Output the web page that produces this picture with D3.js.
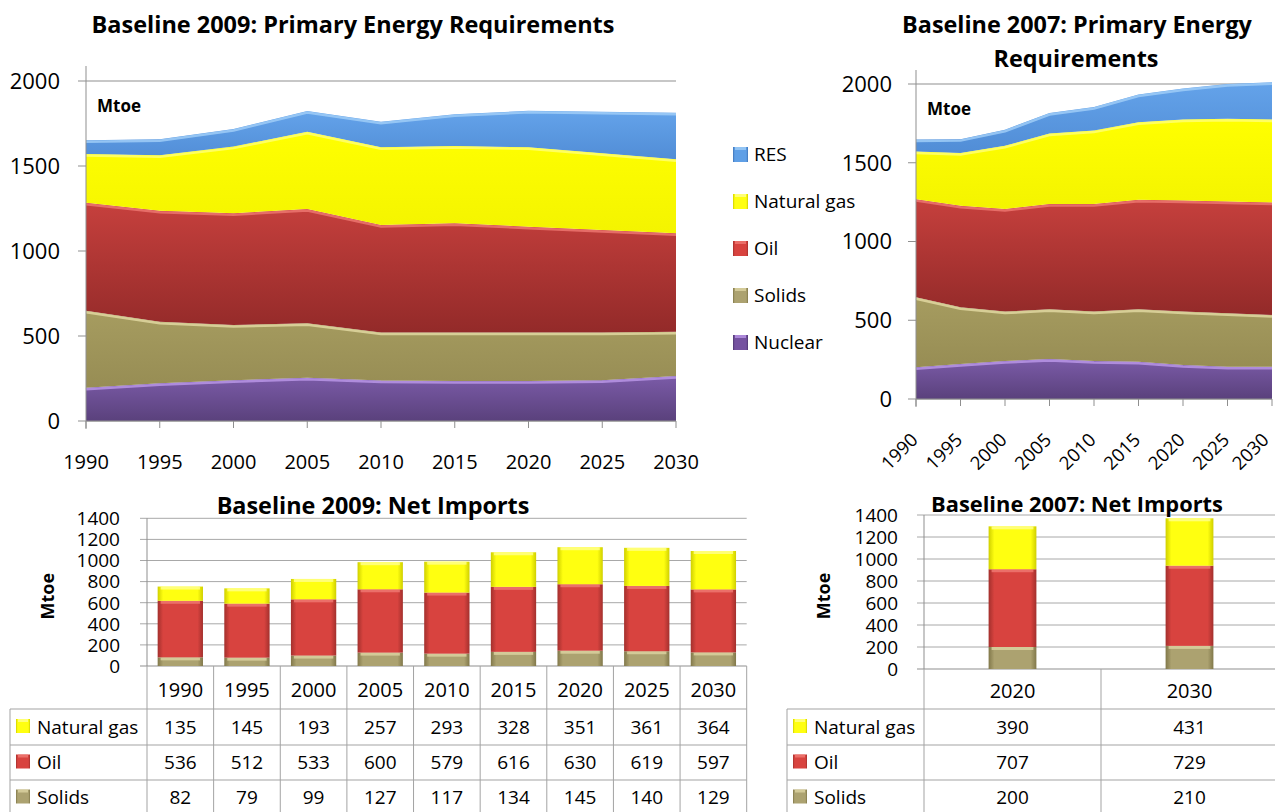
<!DOCTYPE html>
<html><head><meta charset="utf-8">
<script src="https://cdn.jsdelivr.net/npm/d3@7"></script>
<style>body{margin:0;background:#fff;} svg{display:block;font-family:"Open Sans",Lato,sans-serif;}</style>
</head><body><svg id="c" width="1275" height="812"></svg>
<script>
// ---------------- DATA ----------------
const years = [1990,1995,2000,2005,2010,2015,2020,2025,2030];
const seriesNames = ["Nuclear","Solids","Oil","Natural gas","RES"];
const legendOrder = ["RES","Natural gas","Oil","Solids","Nuclear"];
// Baseline 2009: primary energy requirements (Mtoe)
const b09Nuclear = [196,222,240,255,238,235,235,240,265];
const b09Solids  = [453,362,325,320,282,285,285,280,260];
const b09Oil     = [635,653,657,672,633,643,623,604,579];
const b09Gas     = [287,326,392,455,457,455,467,451,435];
const b09Res     = [80,94,104,122,151,186,215,244,274];
// Baseline 2007: primary energy requirements (Mtoe)
const b07Nuclear = [201,222,241,254,241,237,216,205,205];
const b07Solids  = [445,361,314,316,314,333,339,340,329];
const b07Oil     = [623,644,651,668,683,695,705,709,714];
const b07Gas     = [303,335,402,447,466,492,514,526,526];
const b07Res     = [75,88,102,131,150,176,197,220,237];
const areaTicks = [0,500,1000,1500,2000];
// Net imports (Mtoe)
const ni09Years  = ["1990","1995","2000","2005","2010","2015","2020","2025","2030"];
const ni09Gas    = [135,145,193,257,293,328,351,361,364];
const ni09Oil    = [536,512,533,600,579,616,630,619,597];
const ni09Solids = [82,79,99,127,117,134,145,140,129];
const ni07Years  = ["2020","2030"];
const ni07Gas    = [390,431];
const ni07Oil    = [707,729];
const ni07Solids = [200,210];
const barTicks = [0,200,400,600,800,1000,1200,1400];
const barStackKeys = ["Solids","Oil","Natural gas"];
const tableRows = ["Natural gas","Oil","Solids"];

// ---------------- STYLE ----------------
const areaCol = {
  "RES":{top:"#64a3ea",bot:"#518dd6",edge:"#9fcdf7"},
  "Natural gas":{top:"#ffff00",bot:"#f4f400",edge:"#ffff70"},
  "Oil":{top:"#c6403d",bot:"#932a29",edge:"#ec7570"},
  "Solids":{top:"#a69c60",bot:"#978d54",edge:"#e0d7a0"},
  "Nuclear":{top:"#7b5ba8",bot:"#5a417c",edge:"#b995e6"}
};
const barCol = {
  "Natural gas":{mid:"#ffff10",side:"#cfcf00",top:"#ffff90"},
  "Oil":{mid:"#d8433f",side:"#a3302d",top:"#f07a74"},
  "Solids":{mid:"#aca270",side:"#81784a",top:"#ddd5a2"},
  "RES":{mid:"#5f9fe6",side:"#3f74b8",top:"#9fcdf7"},
  "Nuclear":{mid:"#7552a0",side:"#4e3770",top:"#b995e6"}
};
const svg = d3.select("#c");
const defs = svg.append("defs");
const slug = s => s.replace(/\s/g,"_");
Object.entries(areaCol).forEach(([k,c])=>{
  const g = defs.append("linearGradient").attr("id","ag_"+slug(k)).attr("x1",0).attr("y1",0).attr("x2",0).attr("y2",1);
  g.append("stop").attr("offset","0%").attr("stop-color",c.top);
  g.append("stop").attr("offset","100%").attr("stop-color",c.bot);
});
Object.entries(barCol).forEach(([k,c])=>{
  const g = defs.append("linearGradient").attr("id","bg_"+slug(k)).attr("x1",0).attr("y1",0).attr("x2",1).attr("y2",0);
  g.append("stop").attr("offset","0%").attr("stop-color",c.side);
  g.append("stop").attr("offset","12%").attr("stop-color",c.mid);
  g.append("stop").attr("offset","88%").attr("stop-color",c.mid);
  g.append("stop").attr("offset","100%").attr("stop-color",c.side);
});
const GRID="#8f8f8f", TBL="#a3a3a3";

// shrink/grow a title so that it spans the given width
function fitTitle(t, w){
  const len = t.node().getComputedTextLength();
  const fs = parseFloat(t.attr("font-size"));
  t.attr("font-size", (fs*w/len).toFixed(2));
}

function keySquare(g,x,y,s,name){
  g.append("rect").attr("x",x).attr("y",y).attr("width",s).attr("height",s).attr("fill","url(#bg_"+slug(name)+")");
  g.append("rect").attr("x",x+2).attr("y",y).attr("width",s-4).attr("height",3).attr("fill",barCol[name].top).attr("opacity",0.8);
}

// ---------------- AREA CHARTS ----------------
function areaChart(cfg){
  const g = svg.append("g");
  const x = d3.scaleLinear().domain([1990,2030]).range([cfg.x0,cfg.x1]);
  const y = d3.scaleLinear().domain([0,2000]).range([cfg.yb,cfg.yt]);
  const rows = years.map((yr,i)=>{const r={year:yr}; seriesNames.forEach(s=>r[s]=cfg.data[s][i]); return r;});
  const stack = d3.stack().keys(seriesNames)(rows);
  g.selectAll(".gl").data(areaTicks).join("line")
    .attr("x1",cfg.x0-8).attr("x2",cfg.x1).attr("y1",d=>y(d)).attr("y2",d=>y(d))
    .attr("stroke",GRID).attr("stroke-width",1);
  const area = d3.area().x(d=>x(d.data.year)).y0(d=>y(d[0])).y1(d=>y(d[1]));
  const edge = d3.line().x(d=>x(d.data.year)).y(d=>y(d[1])+1.5);
  stack.forEach(s=>{
    g.append("path").attr("d",area(s)).attr("fill","url(#ag_"+slug(s.key)+")");
  });
  stack.forEach(s=>{
    g.append("path").attr("d",edge(s)).attr("fill","none").attr("stroke",areaCol[s.key].edge).attr("stroke-width",2.5).attr("opacity",0.85);
  });
  g.append("line").attr("x1",cfg.x0).attr("x2",cfg.x0).attr("y1",cfg.axisTop).attr("y2",cfg.yb+8).attr("stroke",GRID);
  g.append("line").attr("x1",cfg.x0).attr("x2",cfg.x1).attr("y1",cfg.yb).attr("y2",cfg.yb).attr("stroke",GRID);
  g.selectAll(".xt").data(years).join("line").attr("x1",d=>x(d)).attr("x2",d=>x(d)).attr("y1",cfg.yb).attr("y2",cfg.yb+7).attr("stroke",GRID);
  g.selectAll(".yl").data(areaTicks).join("text").attr("x",cfg.ylabX).attr("y",d=>y(d)).attr("dy","0.36em")
    .attr("text-anchor","end").attr("font-size",cfg.yfs).attr("fill","#000").text(d=>d);
  if(cfg.rotate){
    g.selectAll(".xl").data(years).join("text").attr("text-anchor","end").attr("font-size",18.5)
      .attr("transform",d=>`translate(${Math.min(x(d)+3,1270)},${cfg.yb+42}) rotate(-45)`).text(d=>d);
  } else {
    g.selectAll(".xl").data(years).join("text").attr("x",d=>x(d)).attr("y",cfg.yb+48).attr("text-anchor","middle")
      .attr("font-size",20).text(d=>d);
  }
  g.append("text").attr("x",cfg.x0+11).attr("y",cfg.yt+31).attr("font-size",17).attr("font-weight","bold").text("Mtoe");
  return g;
}

areaChart({x0:86,x1:676,yb:421,yt:81,axisTop:66,ylabX:60,yfs:22,rotate:false,
  data:{"Nuclear":b09Nuclear,"Solids":b09Solids,"Oil":b09Oil,"Natural gas":b09Gas,"RES":b09Res}});
areaChart({x0:916,x1:1272,yb:399,yt:84,axisTop:70,ylabX:892,yfs:22,rotate:true,
  data:{"Nuclear":b07Nuclear,"Solids":b07Solids,"Oil":b07Oil,"Natural gas":b07Gas,"RES":b07Res}});

// titles
fitTitle(svg.append("text").attr("x",353).attr("y",33).attr("text-anchor","middle").attr("font-weight","bold").attr("font-size",22).text("Baseline 2009: Primary Energy Requirements"),523);
const t2 = svg.append("text").attr("x",1077).attr("y",33).attr("text-anchor","middle").attr("font-weight","bold").attr("font-size",22).text("Baseline 2007: Primary Energy");
fitTitle(t2,350);
svg.append("text").attr("x",1076).attr("y",67).attr("text-anchor","middle").attr("font-weight","bold").attr("font-size",t2.attr("font-size")).text("Requirements");

// legend
const lg = svg.append("g");
legendOrder.forEach((n,i)=>{
  const yy = 147 + i*47;
  keySquare(lg,733,yy,15,n);
  lg.append("text").attr("x",754).attr("y",yy+7.5).attr("dy","0.36em").attr("font-size",19).text(n);
});

// ---------------- BAR CHARTS + TABLES ----------------
function barChart(cfg){
  const g = svg.append("g");
  const x = d3.scaleBand().domain(cfg.cats).range([cfg.x0,cfg.x1]).paddingInner(cfg.pad).paddingOuter(cfg.pad/2);
  const y = d3.scaleLinear().domain([0,1400]).range([cfg.yb,cfg.yt]);
  g.selectAll(".gl").data(barTicks).join("line").attr("x1",cfg.x0-7).attr("x2",cfg.gridEnd)
    .attr("y1",d=>y(d)).attr("y2",d=>y(d)).attr("stroke",d=>d===0?GRID:"#a8a8a8").attr("stroke-width",1);
  g.append("line").attr("x1",cfg.x0).attr("x2",cfg.x0).attr("y1",cfg.yt).attr("y2",cfg.yb).attr("stroke",GRID);
  g.selectAll(".yl").data(barTicks).join("text").attr("x",cfg.ylabX).attr("y",d=>y(d)).attr("dy","0.36em")
    .attr("text-anchor","end").attr("font-size",19).text(d=>d);
  g.append("text").attr("transform",`translate(${cfg.mtoeX},${(cfg.yb+cfg.yt)/2+4}) rotate(-90)`).attr("text-anchor","middle")
    .attr("font-size",18).attr("font-weight","bold").text("Mtoe");
  const rows = cfg.cats.map((c,i)=>{const r={cat:c}; barStackKeys.forEach(k=>r[k]=cfg.data[k][i]); return r;});
  const st = d3.stack().keys(barStackKeys)(rows);
  st.forEach(s=>{
    const sg = g.append("g");
    sg.selectAll("rect.b").data(s).join("rect").attr("x",d=>x(d.data.cat)).attr("width",x.bandwidth())
      .attr("y",d=>y(d[1])).attr("height",d=>y(d[0])-y(d[1])).attr("fill","url(#bg_"+slug(s.key)+")");
    sg.selectAll("rect.t").data(s).join("rect").attr("x",d=>x(d.data.cat)+3).attr("width",x.bandwidth()-6)
      .attr("y",d=>y(d[1])).attr("height",3).attr("fill",barCol[s.key].top).attr("opacity",0.8);
  });
  fitTitle(g.append("text").attr("x",cfg.titleX).attr("y",cfg.titleY).attr("text-anchor","middle").attr("font-weight","bold")
    .attr("font-size",20).text(cfg.title), cfg.titleW);
  // table
  const step = x.step();
  const colEdges = cfg.cats.map((c,i)=>cfg.x0+i*step).concat([cfg.x0+cfg.cats.length*step]);
  const rowY = [cfg.yb,709,745,780,815];
  g.selectAll(".cv").data(colEdges).join("line").attr("x1",d=>d).attr("x2",d=>d).attr("y1",cfg.yb).attr("y2",812).attr("stroke",TBL);
  g.append("line").attr("x1",cfg.tblLeft).attr("x2",cfg.tblLeft).attr("y1",709).attr("y2",812).attr("stroke",TBL);
  [709,745,780].forEach(yy=>g.append("line").attr("x1",cfg.tblLeft).attr("x2",colEdges[colEdges.length-1]).attr("y1",yy).attr("y2",yy).attr("stroke",TBL));
  g.selectAll(".hd").data(cfg.cats).join("text").attr("x",d=>x(d)+x.bandwidth()/2).attr("y",(rowY[0]+rowY[1])/2+2)
    .attr("dy","0.36em").attr("text-anchor","middle").attr("font-size",20).text(d=>d);
  tableRows.forEach((r,ri)=>{
    const cy = (rowY[ri+1]+rowY[ri+2])/2;
    keySquare(g,cfg.tblLeft+6,cy-8,14,r);
    g.append("text").attr("x",cfg.tblLeft+27).attr("y",cy).attr("dy","0.36em").attr("font-size",19).text(r);
    g.selectAll(".v"+ri).data(cfg.data[r]).join("text").attr("x",(d,i)=>x(cfg.cats[i])+x.bandwidth()/2).attr("y",cy)
      .attr("dy","0.36em").attr("text-anchor","middle").attr("font-size",19).text(d=>d);
  });
}

barChart({cats:ni09Years,x0:147,x1:746.7,pad:0.32,yb:666,yt:518.3,gridEnd:746.7,ylabX:120,mtoeX:54,
  title:"Baseline 2009: Net Imports",titleX:373,titleY:514,titleW:313,tblLeft:10,
  data:{"Natural gas":ni09Gas,"Oil":ni09Oil,"Solids":ni09Solids}});
barChart({cats:ni07Years,x0:924,x1:1278,pad:0.73,yb:669,yt:515,gridEnd:1275,ylabX:898,mtoeX:830,
  title:"Baseline 2007: Net Imports",titleX:1077,titleY:512,titleW:292,tblLeft:787,
  data:{"Natural gas":ni07Gas,"Oil":ni07Oil,"Solids":ni07Solids}});
</script>
</body></html>
